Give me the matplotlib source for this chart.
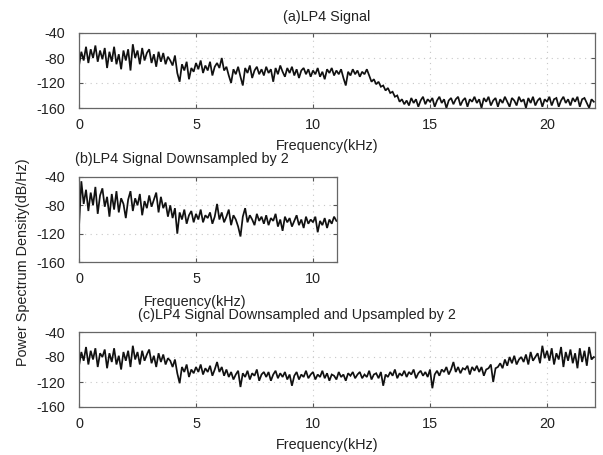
import numpy as np
import matplotlib
matplotlib.use("Agg")
import matplotlib.pyplot as plt

# PSD values (dB/Hz), one value every 0.1 kHz
step_khz = 0.1

psd_lp4 = [
    -92, -70, -84, -62, -88, -66, -80, -60, -86, -68,
    -82, -64, -96, -70, -86, -62, -90, -74, -98, -68,
    -84, -66, -100, -58, -80, -68, -90, -64, -84, -72,
    -66, -88, -74, -94, -70, -86, -72, -90, -78, -84,
    -92, -76, -104, -118, -90, -100, -86, -114, -96, -102,
    -88, -98, -84, -104, -92, -100, -86, -108, -94, -88,
    -96, -80, -100, -94, -108, -120, -98, -106, -94, -110,
    -124, -96, -104, -92, -112, -100, -94, -106, -98, -108,
    -94, -104, -98, -118, -96, -106, -92, -102, -110, -96,
    -104, -94, -108, -98, -112, -100, -96, -106, -98, -110,
    -100, -106, -96, -110, -102, -114, -98, -104, -96, -108,
    -100, -106, -98, -112, -124, -102, -108, -98, -106, -100,
    -110, -102, -106, -98, -108, -118, -114, -122, -118, -126,
    -124, -132, -128, -136, -134, -142, -140, -150, -146, -154,
    -148, -156, -144, -152, -146, -158, -148, -142, -154, -146,
    -150, -144, -158, -148, -142, -152, -146, -160, -148, -144,
    -154, -146, -142, -156, -148, -144, -158, -146, -150, -142,
    -152, -146, -160, -144, -150, -142, -156, -148, -144, -158,
    -146, -152, -142, -150, -158, -144, -148, -156, -142, -150,
    -146, -160, -144, -152, -142, -156, -148, -144, -158, -146,
    -150, -142, -156, -146, -144, -158, -148, -142, -152, -146,
    -156, -144, -150, -142, -158, -146, -144, -152, -160, -146,
    -150,
]

psd_down = [
    -110, -46, -78, -58, -88, -62, -80, -54, -92, -66,
    -56, -82, -68, -96, -64, -86, -60, -90, -70, -78,
    -98, -72, -60, -88, -70, -80, -64, -94, -74, -84,
    -66, -82, -72, -62, -90, -68, -84, -76, -96, -80,
    -98, -84, -120, -90, -100, -86, -106, -94, -88, -104,
    -92, -100, -86, -104, -94, -98, -90, -106, -96, -78,
    -100, -90, -104, -96, -86, -108, -94, -100, -110, -124,
    -96, -84, -104, -94, -100, -108, -92, -102, -96, -106,
    -94, -108, -98, -102, -92, -110, -100, -116, -96, -104,
    -98, -110, -102, -94, -108, -100, -112, -96, -106, -100,
    -104, -96, -118, -102, -108, -98, -112, -100, -106, -96,
    -102,
]

psd_up = [
    -94, -72, -86, -64, -92, -70, -84, -66, -96, -74,
    -80, -68, -98, -74, -88, -66, -92, -78, -100, -72,
    -86, -70, -96, -62, -84, -72, -92, -70, -86, -76,
    -68, -90, -78, -96, -74, -88, -76, -92, -82, -86,
    -96, -84, -106, -122, -96, -104, -92, -112, -100, -106,
    -96, -104, -92, -108, -98, -104, -94, -110, -100, -88,
    -104, -96, -110, -100, -112, -104, -116, -108, -102, -128,
    -106, -112, -102, -116, -106, -110, -100, -118, -108, -104,
    -112, -104, -118, -108, -102, -114, -106, -112, -104, -116,
    -108, -126, -110, -104, -116, -108, -112, -102, -114, -108,
    -104, -116, -108, -112, -102, -114, -106, -118, -108, -110,
    -116, -104, -112, -108, -118, -106, -110, -104, -114, -108,
    -104, -114, -108, -112, -102, -116, -108, -106, -114, -104,
    -126, -108, -112, -104, -110, -100, -114, -106, -110, -102,
    -112, -104, -108, -100, -114, -106, -102, -110, -104, -112,
    -100, -130, -108, -102, -110, -100, -104, -96, -108, -100,
    -88, -104, -96, -106, -98, -100, -94, -108, -96, -102,
    -94, -104, -96, -110, -100, -98, -92, -120, -98, -96,
    -90, -98, -84, -94, -80, -90, -78, -92, -84, -80,
    -88, -76, -92, -72, -86, -80, -74, -90, -62, -82,
    -70, -86, -66, -92, -74, -84, -64, -96, -72, -86,
    -68, -90, -74, -98, -66, -88, -70, -94, -64, -84,
    -80,
]

y_ticks = [-40, -80, -120, -160]
x_ticks_full = [0, 5, 10, 15, 20]
x_ticks_half = [0, 5, 10]

W, H = 603, 455
plt.rcParams['font.family'] = ['Liberation Sans', 'DejaVu Sans']
plt.rcParams['font.size'] = 10.4
plt.rcParams['axes.unicode_minus'] = False
TXT = '#222222'


def px(x, y):
    # pixel position (from top-left) -> figure fraction
    return x / W, 1 - y / H


def add_panel(fig, left, top, right, bottom, values, xmax, xticks):
    l, t = px(left, top)
    r, b = px(right, bottom)
    ax = fig.add_axes([l, b, r - l, t - b])
    freq = np.arange(len(values)) * step_khz
    ax.plot(freq, values, color='#111111', lw=1.25, solid_joinstyle='miter')
    ax.set_xlim(0, xmax)
    ax.set_ylim(-160, -40)
    ax.set_xticks(xticks)
    ax.set_yticks(y_ticks)
    ax.grid(True, color='#c8c8c8', ls=(0, (1, 4)), lw=0.8)
    ax.tick_params(direction='in', length=3, width=0.8, color='#555555',
                   top=True, right=True, labelcolor=TXT)
    ax.tick_params(axis='x', pad=7)
    ax.tick_params(axis='y', pad=10)
    for s in ax.spines.values():
        s.set_color('#666666')
        s.set_linewidth(0.9)
    return ax


fig = plt.figure(figsize=(W / 100, H / 100), dpi=100)

add_panel(fig, 79, 33, 595, 108, psd_lp4, 22.05, x_ticks_full)
add_panel(fig, 79, 177, 337, 262, psd_down, 11.025, x_ticks_half)
add_panel(fig, 79, 332, 595, 407, psd_up, 22.05, x_ticks_full)

fig.text(*px(327, 17), '(a)LP4 Signal', ha='center', va='center', color=TXT)
fig.text(*px(327, 146), 'Frequency(kHz)', ha='center', va='center', color=TXT)
fig.text(*px(75, 159), '(b)LP4 Signal Downsampled by 2', ha='left', va='center', color=TXT)
fig.text(*px(195, 302), 'Frequency(kHz)', ha='center', va='center', color=TXT)
fig.text(*px(138, 315), '(c)LP4 Signal Downsampled and Upsampled by 2',
         ha='left', va='center', color=TXT)
fig.text(*px(327, 445), 'Frequency(kHz)', ha='center', va='center', color=TXT)
fig.text(*px(23, 262), 'Power Spectrum Density(dB/Hz)', rotation=90,
         ha='center', va='center', color=TXT)

fig.savefig('out.png', dpi=100)
